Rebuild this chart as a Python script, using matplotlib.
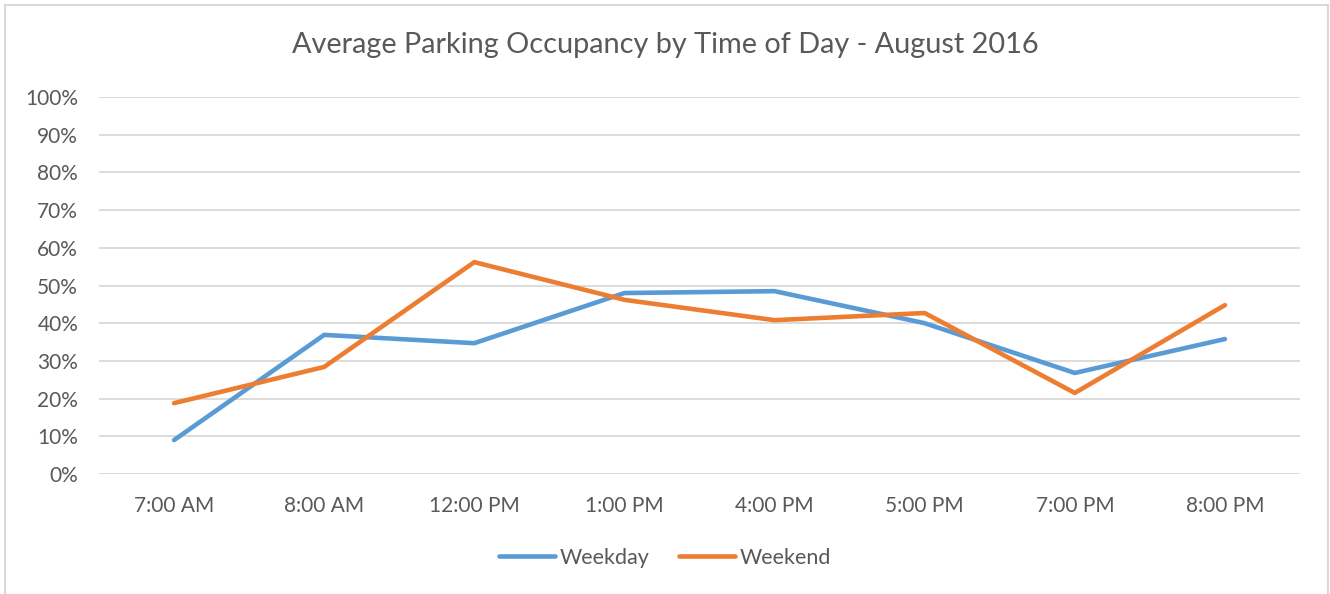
import matplotlib.pyplot as plt
from matplotlib.patches import Rectangle
from matplotlib.ticker import PercentFormatter

plt.rcParams['font.family'] = ['Lato', 'DejaVu Sans']

times = ['7:00 AM', '8:00 AM', '12:00 PM', '1:00 PM', '4:00 PM', '5:00 PM', '7:00 PM', '8:00 PM']
weekday = [9.0, 36.9, 34.7, 48.0, 48.5, 40.0, 26.8, 35.8]
weekend = [18.8, 28.4, 56.2, 46.2, 40.8, 42.7, 21.5, 44.8]

txt = '#595959'
grid = '#D9D9D9'

fig = plt.figure(figsize=(13.3, 5.94), dpi=100)
ax = fig.add_axes([99 / 1330, 1 - 474 / 594, (1300 - 99) / 1330, (474 - 97) / 594])

x = range(len(times))
ax.plot(x, weekday, color='#5B9BD5', lw=3.3, solid_capstyle='round', solid_joinstyle='round', label='Weekday')
ax.plot(x, weekend, color='#ED7D31', lw=3.3, solid_capstyle='round', solid_joinstyle='round', label='Weekend')

ax.set_xlim(-0.5, len(times) - 0.5)
ax.set_ylim(0, 100)
ax.set_yticks(range(0, 101, 10))
ax.yaxis.set_major_formatter(PercentFormatter(decimals=0))
ax.set_xticks(list(x))
ax.set_xticklabels(times)
ax.tick_params(axis='both', length=0, labelsize=15, colors=txt)
ax.tick_params(axis='y', pad=15)
ax.tick_params(axis='x', pad=16)
ax.grid(axis='y', color=grid, lw=1.3)
ax.set_axisbelow(True)
for s in ax.spines.values():
    s.set_visible(False)

fig.text(0.5, 1 - 45 / 594, 'Average Parking Occupancy by Time of Day - August 2016',
         ha='center', va='center', fontsize=20.8, color=txt)

fig.legend(loc='center', bbox_to_anchor=(0.5, 1 - 558 / 594), ncol=2, frameon=False,
           fontsize=15.5, labelcolor=txt, handlelength=2.6, handletextpad=0.2, columnspacing=1.4)

fig.add_artist(Rectangle((5 / 1330, -0.01), (1328 - 5) / 1330, 1 - 5 / 594 + 0.01,
                         transform=fig.transFigure, fill=False, edgecolor=grid, lw=1.5))

fig.savefig('out.png', dpi=100)
